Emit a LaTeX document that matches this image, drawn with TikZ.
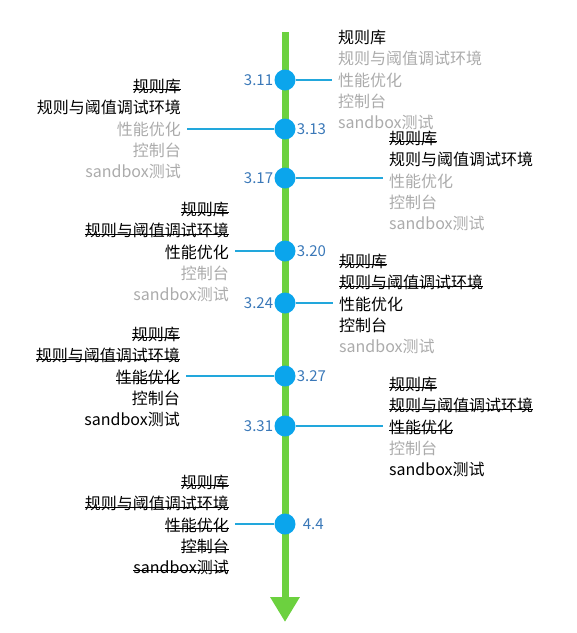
\documentclass[tikz,border=0pt]{standalone}
\usepackage{fontspec}
\setmainfont{Noto Sans CJK SC}
\usepackage{xcolor}
\usepackage{tikz}
\usetikzlibrary{arrows.meta,positioning}
\definecolor{TlGreen}{HTML}{6CD13F}
\definecolor{TlBlue}{HTML}{0BA5EC}
\definecolor{TlLine}{HTML}{22A7DC}
\definecolor{TlDate}{HTML}{3A78B8}
\definecolor{TlGray}{HTML}{ABABAB}
\newsavebox\strikebox
\newcommand\done[1]{\sbox\strikebox{#1}\rlap{\usebox\strikebox}\rule[0.15em]{\wd\strikebox}{1pt}}
\newcommand\pend[1]{\textcolor{TlGray}{#1}}

\begin{document}
\begin{tikzpicture}[
  x=1pt,y=1pt,
  axis/.style={line width=7pt,color=TlGreen,-{Triangle[width=28pt,length=25pt]}},
  stone/.style={circle,fill=TlBlue,minimum size=21pt,inner sep=0pt},
  branch/.style={line width=1.3pt,color=TlLine},
  date/.style={font=\fontsize{15}{17}\selectfont,text=TlDate,inner sep=1pt},
  rtext/.style={anchor=west,align=left,inner xsep=6pt,inner ysep=0pt,
    font=\fontsize{16}{21.2}\selectfont},
  ltext/.style={anchor=east,align=right,inner xsep=6pt,inner ysep=0pt,
    font=\fontsize{16}{21.2}\selectfont}
]
  \useasboundingbox (0,0) rectangle (577,-633);
  \coordinate (top) at (285,-32);
  \coordinate (bottom) at (285,-622);
  \draw[axis] (top) -- (bottom);

  \node[stone] (m311) at (285,-80) {};
  \node[stone] (m313) at (285,-129) {};
  \node[stone] (m317) at (285,-178) {};
  \node[stone] (m320) at (285,-251) {};
  \node[stone] (m324) at (285,-303) {};
  \node[stone] (m327) at (285,-376) {};
  \node[stone] (m331) at (285,-426) {};
  \node[stone] (m44) at (285,-524) {};

  \node[date,left=0pt of m311] (d311) {3.11};
  \node[date,right=0pt of m313] (d313) {3.13};
  \node[date,left=0pt of m317] (d317) {3.17};
  \node[date,right=0pt of m320] (d320) {3.20};
  \node[date,left=0pt of m324] (d324) {3.24};
  \node[date,right=0pt of m327] (d327) {3.27};
  \node[date,left=0pt of m331] (d331) {3.31};
  \node[date,right=6pt of m44] (d44) {4.4};

  \node[rtext] (t311) at (332,-80)
    {规则库\\\pend{规则与阈值调试环境}\\\pend{性能优化}\\\pend{控制台}\\\pend{sandbox测试}};
  \node[ltext] (t313) at (187,-129)
    {\done{规则库}\\规则与阈值调试环境\\\pend{性能优化}\\\pend{控制台}\\\pend{sandbox测试}};
  \node[rtext] (t317) at (383,-181)
    {\done{规则库}\\规则与阈值调试环境\\\pend{性能优化}\\\pend{控制台}\\\pend{sandbox测试}};
  \node[ltext] (t320) at (235,-252)
    {\done{规则库}\\\done{规则与阈值调试环境}\\性能优化\\\pend{控制台}\\\pend{sandbox测试}};
  \node[rtext] (t324) at (333,-304)
    {\done{规则库}\\\done{规则与阈值调试环境}\\性能优化\\控制台\\\pend{sandbox测试}};
  \node[ltext] (t327) at (186,-377)
    {\done{规则库}\\\done{规则与阈值调试环境}\\\done{性能优化}\\控制台\\sandbox测试};
  \node[rtext] (t331) at (383,-427)
    {\done{规则库}\\\done{规则与阈值调试环境}\\\done{性能优化}\\\pend{控制台}\\sandbox测试};
  \node[ltext] (t44) at (235,-525)
    {\done{规则库}\\\done{规则与阈值调试环境}\\\done{性能优化}\\\done{控制台}\\\done{sandbox测试}};

  \draw[branch] (m311) -- (t311.west |- m311);
  \draw[branch] (m313) -- (t313.east |- m313);
  \draw[branch] (m317) -- (t317.west |- m317);
  \draw[branch] (m320) -- (t320.east |- m320);
  \draw[branch] (m324) -- (t324.west |- m324);
  \draw[branch] (m327) -- (t327.east |- m327);
  \draw[branch] (m331) -- (t331.west |- m331);
  \draw[branch] (m44) -- (t44.east |- m44);
\end{tikzpicture}
\end{document}
